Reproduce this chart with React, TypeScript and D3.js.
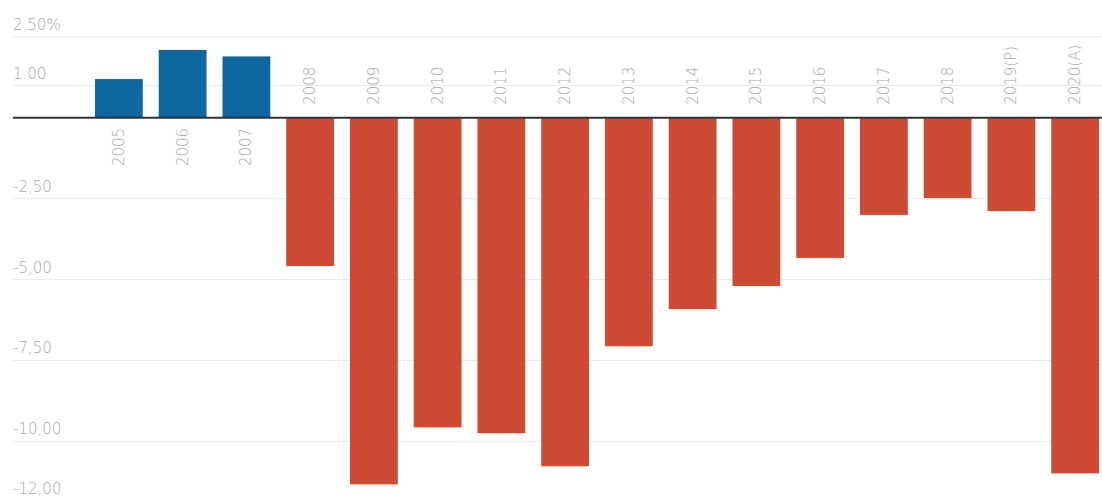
import React from "react";
import * as d3 from "d3";

const categories = ["2005", "2006", "2007", "2008", "2009", "2010", "2011", "2012", "2013", "2014", "2015", "2016", "2017", "2018", "2019(P)", "2020(A)"];
const values = [1.2, 2.1, 1.9, -4.58, -11.33, -9.57, -9.75, -10.77, -7.06, -5.91, -5.2, -4.33, -3.0, -2.48, -2.88, -10.99];
const tickValues = [2.5, 1, -2.5, -5, -7.5, -10, -12];
const tickLabels = ["2.50%", "1.00", "-2,50", "-5,00", "-7,50", "-10,00", "-12,00"];

const W = 1102;
const H = 500;

export default function App() {
  const x = d3.scaleBand<string>().domain(categories).range([87, 1107]).paddingInner(0.25).paddingOuter(0.125);
  const y = d3.scaleLinear().domain([-12, 2.5]).range([506, 37]);
  const fontFamily = "'DejaVu Sans', sans-serif";
  return (
    <svg width={W} height={H} style={{ position: "absolute", left: 0, top: 0, background: "#fff" }}>
      {tickValues.map((t, i) => (
        <g key={t}>
          {t !== -12 && <line x1={13} x2={W} y1={y(t)} y2={y(t)} stroke="#ebebeb" strokeWidth={1} />}
          <text x={13} y={Math.min(y(t) - 7, 494)} fontSize={15} fill="#a8a8a8" fontFamily={fontFamily} fontWeight={200}>
            {tickLabels[i]}
          </text>
        </g>
      ))}
      {categories.map((c, i) => {
        const v = values[i];
        const bx = x(c)!;
        const y0 = y(0);
        const yv = y(v);
        return (
          <rect
            key={c}
            x={bx}
            width={x.bandwidth()}
            y={Math.min(y0, yv)}
            height={Math.abs(yv - y0)}
            fill={v >= 0 ? "#0f67a0" : "#cd4a35"}
          />
        );
      })}
      <line x1={13} x2={W} y1={y(0)} y2={y(0)} stroke="#333" strokeWidth={2} />
      {categories.map((c, i) => {
        const v = values[i];
        const cx = x(c)! + x.bandwidth() / 2;
        const ly = v >= 0 ? y(0) + 10 : y(0) - 13;
        return (
          <text
            key={c}
            transform={`translate(${cx + 5},${ly}) rotate(-90)`}
            textAnchor={v >= 0 ? "end" : "start"}
            fontSize={15}
            fill="#a8a8a8"
            fontFamily={fontFamily}
            fontWeight={200}
          >
            {c}
          </text>
        );
      })}
    </svg>
  );
}
